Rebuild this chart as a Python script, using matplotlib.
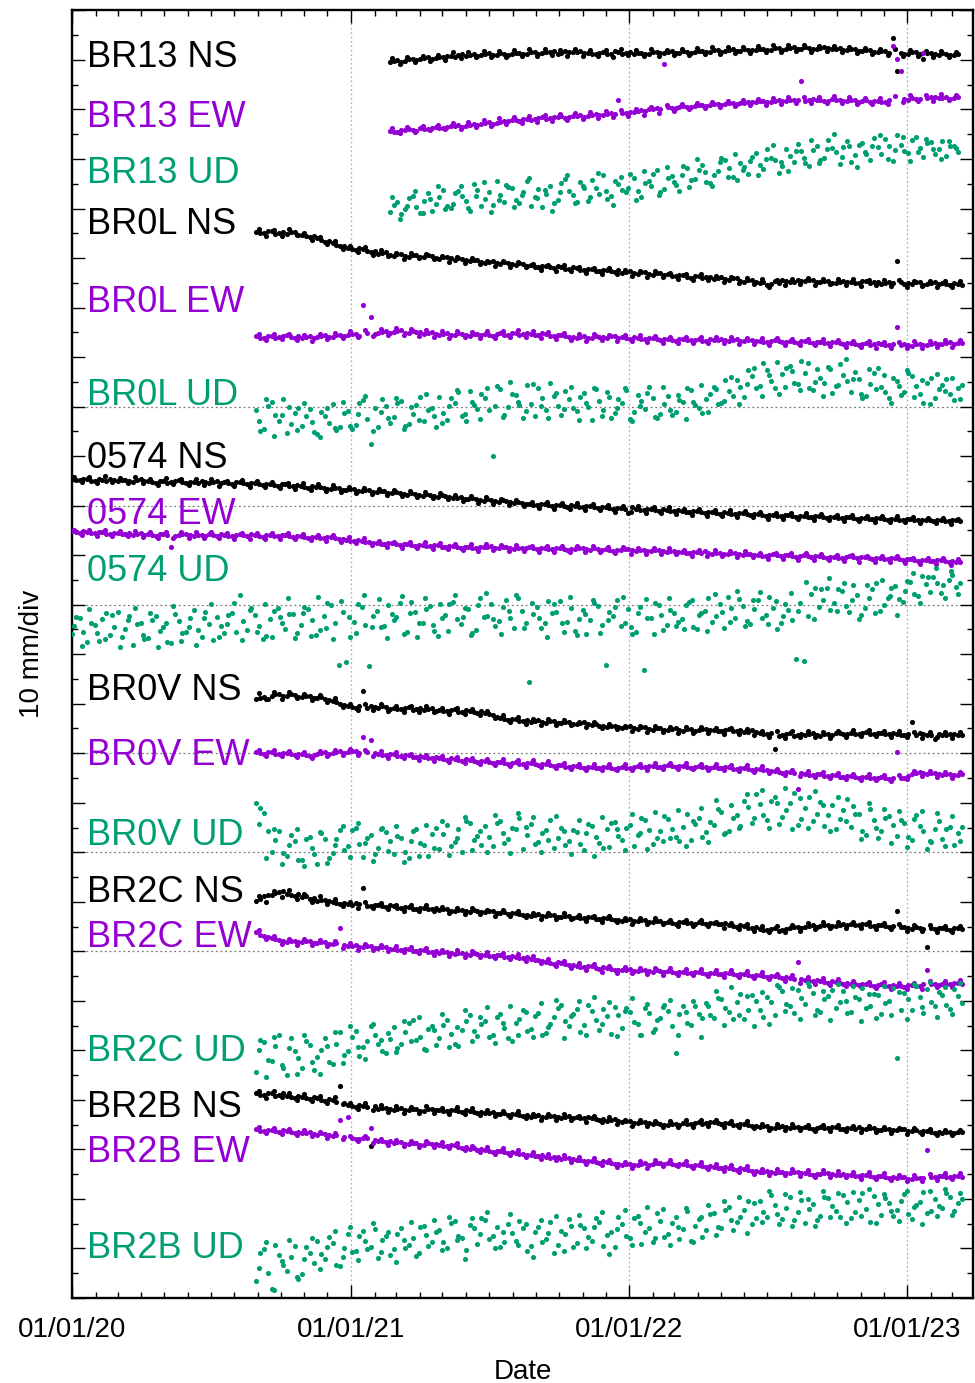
import numpy as np
import pandas as pd
import matplotlib
matplotlib.use("Agg")
import matplotlib.pyplot as plt
import matplotlib.dates as mdates
import matplotlib.transforms as mtransforms
from matplotlib.ticker import MultipleLocator

plt.rcParams['font.family'] = ['Liberation Sans', 'DejaVu Sans']

# displacement in mm.
# "_a": one value every 10 days from the first epoch, "_b": 5 days later,
# "_c": 3 days later (the band spread between them)
start_0574 = "2020-01-01"
start_br0 = "2020-08-30"     # BR0L, BR0V, BR2C, BR2B
start_br13 = "2021-02-21"

br13_ns_a = [-0.2, 0.3, 0.1, 0.5, 0.4, 0.8, 0.6, 1.0, 1.2, 1.4, 1.1, 1.5, 1.3, 1.7, 1.4, 1.6,
             1.5, 1.8, 1.6, 2.0, 1.7, 1.9, 1.6, 2.1, 1.9, 2.2, 1.8, 1.5, 1.9, 1.6, 2.0, 1.7,
             1.5, 1.8, 1.6, 2.0, 1.7, 2.1, 1.8, 2.0, 1.9, 2.2, 2.0, 2.4, 2.1, 2.5, 2.2, 2.4,
             2.3, 2.6, 2.4, 2.8, 2.5, 2.9, 2.6, 2.8, 2.6, 2.9, 2.5, 2.7, 2.3, 2.5, 2.1, 2.3,
             1.9, 2.1, 4.7, 1.8, 1.6, 1.9, 0.4, 1.7, 1.4, 1.6, 1.3]
br13_ns_b = [0.1, -0.1, 0.4, 0.2, 0.7, 0.5, 0.9, 1.2, 1.0, 1.5, 1.3, 1.2, 1.6, 1.4, 1.8, 1.3,
             1.7, 1.5, 2.0, 1.6, 1.9, 2.2, 1.8, 1.9, 2.0, 1.7, 1.6, 1.8, 1.5, 2.1, 1.6, 1.9,
             1.7, 1.5, 2.0, 1.8, 1.9, 1.7, 2.2, 1.8, 2.1, 1.9, 2.3, 2.0, 2.4, 2.2, 2.6, 2.3,
             2.5, 2.4, 2.7, 2.3, 2.8, 2.6, 3.0, 2.5, 2.8, 2.7, 2.6, 2.4, 2.6, 2.2, 2.4, 2.0,
             2.2, 1.8, -1.9, 1.6, 1.9, 1.5, 1.8, 1.5, 1.7, 1.3, 1.5]
br13_ns_c = [0.6, -0.5, 0.9, -0.2, 1.2, 0.0, 1.4, 0.3, 1.9, 0.7, 2.0, 0.8, 2.2, 0.9, 2.1, 1.0,
             2.4, 1.2, 2.5, 1.1, 2.6, 1.3, 2.4, 1.2, 2.5, 1.1, 2.3, 1.2, 2.4, 1.0, 2.5, 1.3,
             2.3, 1.1, 2.6, 1.2, 2.4, 1.3, 2.5, 1.4, 2.8, 1.6, 2.9, 1.5, 3.0, 1.7, 2.9, 1.8,
             3.2, 2.0, 3.3, 1.9, 3.4, 2.1, 3.3, 2.0, 3.2, 2.1, 3.1, 1.9, 2.9, 1.7, 2.8, 1.6,
             2.5, 1.3, 2.6, 1.2, 2.3, 1.1, 2.2, 1.0, 2.1, 0.9, 2.0]
br13_ew_a = [0.1, -0.2, 0.3, 0.2, 0.6, 0.4, 0.8, 0.7, 1.0, 1.2, 1.1, 1.5, 1.4, 1.8, 1.7, 2.1,
             2.3, 2.1, 2.5, 2.4, 2.8, 2.6, 2.9, 2.7, 3.0, 3.2, 3.1, 3.4, 3.3, 3.6, 6.3, 3.7,
             3.9, 4.2, 4.4, 4.7, 13.6, 4.8, 5.0, 4.9, 5.2, 5.4, 5.3, 5.6, 5.5, 5.8, 5.7, 5.9,
             5.9, 6.1, 6.0, 6.3, 6.2, 6.4, 10.2, 6.3, 6.4, 6.2, 6.5, 6.3, 6.1, 6.4, 6.2, 6.0,
             6.2, 6.0, 17.3, 12.2, 6.4, 6.6, 15.8, 6.9, 6.7, 6.9, 6.8]
br13_ew_b = [-0.1, 0.2, 0.4, 0.1, 0.5, 0.7, 0.6, 0.9, 1.1, 0.9, 1.3, 1.2, 1.6, 1.5, 1.9, 2.0,
             2.2, 2.4, 2.3, 2.7, 2.5, 2.8, 3.0, 2.8, 3.1, 2.9, 3.3, 3.2, 3.5, 3.4, 3.6, 3.9,
             4.1, 4.0, 4.6, 4.5, 4.9, 4.7, 5.1, 5.0, 5.3, 5.1, 5.5, 5.4, 5.7, 5.6, 5.8, 6.0,
             6.1, 5.9, 6.2, 6.1, 6.4, 6.3, 6.1, 6.5, 6.3, 6.1, 6.4, 6.2, 6.3, 6.0, 6.3, 6.1,
             5.9, 6.3, 14.6, 6.5, 6.7, 6.5, 6.8, 7.0, 6.8, 6.6, 6.9]
br13_ew_c = [0.6, -0.4, 0.8, -0.1, 1.1, 0.2, 1.3, 0.4, 1.6, 0.5, 1.9, 0.8, 2.2, 1.1, 2.6, 1.5,
             2.9, 1.7, 3.1, 1.9, 3.3, 2.1, 3.5, 2.3, 3.6, 2.4, 3.8, 2.7, 4.0, 2.9, 4.2, 3.1,
             4.4, 3.3, 4.9, 3.7, 5.3, 4.1, 5.6, 4.5, 5.8, 4.7, 6.0, 4.9, 6.2, 5.1, 6.4, 5.3,
             6.5, 5.4, 6.7, 5.5, 6.9, 5.8, 7.0, 5.8, 7.0, 5.7, 7.1, 5.8, 6.9, 5.6, 6.8, 5.5,
             6.8, 5.6, 7.1, 5.9, 7.3, 6.1, 7.4, 6.2, 7.5, 6.3, 7.4]
br13_ud_a = [-0.4, 1.6, 0.3, 2.8, -0.6, 3.4, 1.2, 4.1, 0.5, 3.9, 1.8, 5.2, 0.9, 3.6, 5.8, 1.7,
             4.4, 1.4, 5.9, 2.6, 0.7, 4.8, 2.1, 6.2, 3.0, 5.7, 1.8, 4.5, 7.0, 2.9, 5.3, 3.6,
             6.4, 2.7, 5.8, 8.1, 4.3, 6.9, 3.8, 8.5, 6.2, 9.1, 5.4, 7.8, 10.2, 6.6, 9.4, 7.3,
             11.5, 8.2, 10.6, 7.4, 12.4, 9.7, 11.9, 8.8, 13.0, 10.5, 12.6, 9.3, 14.0, 11.1, 13.5, 10.2,
             12.8, 14.4, 9.8, 13.2, 11.6, 14.8, 10.7, 13.7, 12.3, 11.0, 12.9]
br13_ud_b = [1.1, -0.9, 2.4, 0.6, 1.9, -0.2, 2.7, 0.8, 3.5, 2.9, -0.3, 4.0, 2.3, 1.1, 3.0, 4.6,
             2.0, 3.7, 0.9, 4.2, 3.3, 1.5, 5.4, 3.9, 1.6, 4.4, 6.1, 3.2, 2.3, 5.9, 4.0, 7.3,
             3.9, 5.5, 7.2, 3.6, 6.4, 5.0, 8.9, 6.1, 8.0, 5.7, 7.1, 10.6, 8.4, 6.0, 8.6, 10.8,
             9.0, 12.3, 10.1, 8.9, 11.0, 13.4, 9.4, 12.2, 10.0, 14.2, 11.8, 12.7, 9.6, 13.1, 11.4, 14.6,
             11.3, 13.0, 15.1, 12.0, 14.1, 12.5, 13.6, 11.4, 14.0, 13.0, 11.8]
br13_ud_c = [2.6, -1.8, 0.9, 3.9, -0.7, 2.2, 4.9, 0.2, 1.3, 4.8, 0.4, 2.9, 5.6, -0.4, 2.1, 5.1,
             0.6, 3.0, 6.5, 2.4, 4.0, -0.1, 3.6, 7.1, 1.5, 4.9, 2.6, 7.5, 3.8, 1.0, 6.6, 4.4,
             2.1, 7.9, 4.8, 3.0, 8.7, 5.7, 7.0, 4.6, 10.3, 7.7, 4.9, 9.6, 6.7, 11.4, 8.1, 9.9,
             7.0, 10.4, 13.2, 9.6, 7.8, 12.0, 10.5, 14.1, 9.4, 12.3, 15.3, 10.8, 13.0, 8.6, 11.7, 12.9,
             15.2, 10.4, 12.1, 14.7, 9.9, 11.8, 14.3, 12.4, 10.3, 13.9, 12.6]

br0l_ns_a = [0.2, -0.1, 0.3, 0.0, -0.3, 0.1, -0.4, -0.9, -1.1, -1.8, -2.0, -2.6,
             -3.0, -3.5, -3.3, -3.9, -4.2, -3.9, -4.6, -4.3, -4.8, -4.5, -4.9, -4.6,
             -5.2, -4.8, -5.4, -5.3, -5.7, -5.5, -6.1, -5.7, -6.3, -6.0, -6.5, -6.4,
             -6.6, -7.0, -6.8, -7.1, -6.9, -7.4, -7.2, -7.6, -7.4, -7.8, -7.5, -7.9,
             -8.1, -7.8, -8.3, -8.0, -8.5, -8.2, -8.4, -8.8, -8.6, -9.1, -8.7, -9.0,
             -9.3, -9.0, -9.5, -9.2, -9.9, -9.6, -10.2, -10.5, -9.8, -9.6, -9.9, -9.5,
             -9.8, -9.6, -10.0, -9.7, -10.1, -9.8, -9.9, -10.2, -9.7, -10.0, -10.3, -9.9,
             -5.6, -10.3, -10.4, -10.0, -10.3, -9.9, -10.2, -10.5, -10.3]
br0l_ns_b = [0.0, 0.4, -0.2, 0.2, 0.1, -0.4, -0.7, -0.6, -1.5, -1.6, -2.4, -2.7,
             -3.3, -3.1, -3.7, -3.6, -4.0, -4.4, -4.3, -4.7, -4.4, -4.8, -4.5, -5.0,
             -4.9, -5.1, -5.0, -5.5, -5.4, -5.9, -5.8, -6.2, -5.9, -6.3, -6.2, -6.7,
             -6.9, -6.7, -7.0, -6.7, -7.3, -7.0, -7.5, -7.3, -7.7, -7.6, -7.8, -7.6,
             -7.9, -8.2, -8.0, -8.4, -8.1, -8.6, -8.7, -8.5, -8.9, -8.8, -9.2, -8.9,
             -9.1, -9.4, -9.1, -9.7, -9.5, -10.0, -9.9, -10.3, -10.1, -9.7, -10.0, -9.7,
             -9.6, -9.9, -9.8, -10.2, -9.9, -10.0, -10.1, -9.8, -10.1, -9.9, -10.1, -10.2,
             -9.9, -10.2, -10.0, -10.5, -10.1, -10.4, -10.4, -10.2, -10.6]
br0l_ns_c = [0.7, -0.6, 0.5, -0.7, 0.8, -0.5, -0.1, -1.4, -0.8, -2.3, -1.6, -3.2,
             -2.6, -3.9, -2.9, -4.4, -3.5, -4.7, -4.0, -5.2, -4.1, -5.1, -4.2, -5.3,
             -4.7, -5.9, -4.8, -6.0, -5.1, -6.3, -5.6, -6.8, -5.7, -6.9, -5.8, -7.0,
             -6.4, -7.6, -6.5, -7.7, -6.6, -7.8, -7.0, -8.2, -7.1, -8.3, -7.2, -8.4,
             -7.6, -8.8, -7.7, -8.9, -7.8, -9.0, -8.2, -9.4, -8.3, -9.5, -8.4, -9.6,
             -8.8, -10.0, -8.9, -10.1, -9.1, -10.3, -9.4, -10.9, -9.5, -10.6, -9.3, -10.4,
             -9.2, -10.5, -9.3, -10.4, -9.4, -10.6, -9.4, -10.7, -9.5, -10.6, -9.6, -10.8,
             -9.6, -10.9, -9.7, -10.8, -9.8, -10.9, -9.7, -11.0, -9.8]
br0l_ew_a = [0.1, -0.3, 0.2, -0.1, 0.3, -0.2, -0.3, 0.1, -0.1, 0.3, 0.0, 0.4,
             0.3, 0.6, 6.4, 3.9, 0.8, 1.1, 0.9, 1.3, 0.8, 1.0, 0.6, 0.9,
             0.4, 0.7, 0.3, 0.6, 0.2, 0.5, 0.5, 0.2, 0.7, 0.4, 0.8, 0.5,
             0.6, 0.3, 0.5, 0.1, 0.3, 0.0, -0.2, 0.1, -0.3, 0.0, -0.2, 0.2,
             -0.1, -0.4, -0.2, -0.5, -0.3, -0.6, -0.5, -0.8, -0.4, -0.7, -0.5, -0.8,
             -0.6, -0.4, -0.8, -0.5, -0.9, -0.7, -0.8, -1.1, -0.7, -1.0, -0.8, -1.2,
             -0.9, -1.2, -1.0, -1.3, -1.1, -1.4, -1.3, -1.6, -1.2, -1.5, -1.4, -1.7,
             1.9, -1.5, -1.8, -1.4, -1.7, -1.2, -1.4, -1.1, -1.3]
br0l_ew_b = [-0.2, 0.2, -0.3, 0.1, -0.1, 0.2, 0.0, -0.2, 0.2, 0.0, 0.3, 0.1,
             0.5, 0.2, 0.7, 0.6, 1.0, 0.8, 1.1, 0.7, 1.2, 0.9, 0.7, 0.5,
             0.6, 0.4, 0.8, 0.3, 0.6, 0.3, 0.3, 0.6, 0.4, 0.7, 0.3, 0.7,
             0.4, 0.7, 0.2, 0.4, 0.1, -0.1, 0.0, -0.2, 0.1, -0.1, 0.1, -0.3,
             -0.3, -0.1, -0.4, -0.3, -0.5, -0.4, -0.7, -0.4, -0.6, -0.6, -0.8, -0.5,
             -0.7, -0.6, -0.6, -0.8, -0.6, -0.9, -1.0, -0.8, -0.9, -1.1, -1.0, -0.9,
             -1.1, -1.0, -1.2, -1.1, -1.3, -1.2, -1.5, -1.4, -1.6, -1.3, -1.6, -1.5,
             -1.7, -1.6, -1.5, -1.7, -1.4, -1.5, -1.2, -1.4, -1.2]
br0l_ew_c = [0.6, -0.6, 0.5, -0.5, 0.6, -0.7, 0.4, -0.8, 0.6, -0.4, 0.8, -0.2,
             1.1, -0.1, 1.3, 0.2, 1.6, 0.4, 1.7, 0.3, 1.5, 0.2, 1.3, 0.0,
             1.2, -0.2, 1.1, -0.1, 1.0, -0.2, 1.1, -0.3, 1.2, -0.1, 1.3, -0.1,
             1.2, -0.2, 0.9, -0.5, 0.7, -0.7, 0.5, -0.8, 0.5, -0.7, 0.4, -0.8,
             0.4, -0.9, 0.3, -1.0, 0.1, -1.2, 0.0, -1.3, 0.0, -1.2, -0.1, -1.3,
             0.0, -1.3, -0.1, -1.4, -0.2, -1.5, -0.3, -1.6, -0.3, -1.7, -0.4, -1.7,
             -0.4, -1.7, -0.5, -1.8, -0.6, -2.0, -0.8, -2.1, -0.9, -2.2, -1.0, -2.3,
             -1.0, -2.3, -0.9, -2.2, -0.8, -2.1, -0.7, -2.0, -0.7]
br0l_ud_a = [1.5, -2.4, 3.1, -0.8, -3.2, 0.9, -1.8, 1.7, -3.5, 0.2, 2.6, -2.1,
             1.2, -1.6, 3.4, -5.5, -2.0, 2.3, 0.1, 3.2, -1.5, 2.4, -0.9, 1.8,
             4.1, -0.6, 2.9, 0.3, 5.2, 1.6, 3.8, -7.8, 5.6, 2.1, 4.4, -0.2,
             2.7, 5.9, 1.4, 4.3, 0.5, 3.6, 1.2, 4.8, -0.7, 3.3, 5.1, 0.9,
             2.8, -0.4, 4.5, 1.7, 3.9, 0.6, 4.2, 1.1, 3.0, 5.4, 1.9, 3.7,
             6.1, 2.9, 5.3, 7.4, 4.0, 8.2, 6.3, 9.5, 5.8, 8.7, 10.3, 6.6,
             8.9, 5.4, 7.9, 10.1, 6.2, 8.4, 5.1, 7.6, 4.3, 8.8, 6.0, 3.9,
             7.2, 5.0, 8.3, 4.6, 6.9, 3.8, 6.4, 4.7, 5.9]
br0l_ud_b = [-2.9, 2.2, 0.4, 3.6, -1.5, 1.9, 0.3, -3.0, 1.0, -1.2, -2.7, 0.8,
             -2.5, 2.8, -0.4, 1.9, 3.6, -1.3, 2.9, -1.8, 0.6, 4.1, 1.4, -2.1,
             0.9, 3.8, 5.0, -0.9, 2.4, 4.6, 1.5, 6.2, 0.4, 4.7, 2.5, 6.5,
             0.3, 3.9, 6.8, 2.2, 5.3, 1.9, 4.0, 2.1, 5.7, 1.5, -0.3, 3.6,
             5.5, 1.0, 3.3, 6.0, -0.2, 2.7, 0.5, 3.4, 5.9, 2.4, 0.8, 4.6,
             2.7, 7.5, 4.2, 6.0, 9.4, 5.8, 10.9, 7.2, 4.7, 9.9, 6.9, 11.4,
             5.9, 9.6, 6.8, 4.8, 10.8, 7.3, 9.1, 3.9, 6.6, 9.8, 5.0, 7.9,
             4.4, 8.9, 6.3, 2.8, 7.8, 5.6, 7.7, 3.4, 6.4]
br0l_ud_c = [-0.9, 3.7, -3.9, 0.5, 2.1, -2.6, 2.9, -1.0, -4.0, 1.9, -2.2, 3.1,
             -1.9, 0.6, 4.2, -2.8, 1.1, -0.3, 3.9, -2.4, 2.0, -0.6, 4.6, 0.2,
             -1.2, 2.3, 5.5, 0.6, 3.1, -0.4, 5.9, 2.2, 0.0, 7.1, 3.0, 1.2,
             6.6, 2.3, -0.2, 4.9, 1.6, 6.1, -0.6, 2.9, 5.8, 0.3, 4.1, 1.8,
             5.9, -0.9, 2.3, 4.8, 0.1, 6.0, 1.4, 4.4, -0.5, 3.1, 6.4, 1.0,
             5.6, 3.3, 8.0, 2.6, 6.7, 9.9, 4.2, 8.4, 11.2, 6.0, 9.2, 5.4,
             10.9, 7.0, 4.2, 9.6, 6.4, 11.7, 7.7, 4.6, 9.7, 5.7, 8.5, 2.9,
             6.3, 9.4, 4.1, 7.5, 2.6, 8.6, 5.2, 7.9, 3.6]

s0574_ns_a = [0.2, -0.1, 0.1, -0.3, 0.0, 0.2, -0.2, -0.1, -0.4, 0.1,
              -0.3, -0.6, -0.2, -0.5, -0.1, -0.7, -0.4, -0.3, -0.6, -0.2,
              -0.5, -0.8, -0.4, -0.9, -0.6, -1.0, -0.8, -1.2, -0.9, -1.3,
              -1.2, -1.6, -1.4, -1.7, -1.9, -1.6, -2.1, -1.9, -2.3, -2.1,
              -2.5, -2.3, -2.7, -2.6, -3.0, -2.8, -3.2, -3.0, -3.4, -3.3,
              -3.7, -3.5, -3.9, -3.8, -4.2, -4.0, -4.4, -4.3, -4.7, -4.6,
              -4.8, -5.1, -4.9, -5.2, -5.0, -5.4, -5.2, -5.5, -5.3, -5.6,
              -5.5, -5.8, -5.6, -6.7, -5.8, -6.1, -5.9, -6.2, -6.0, -6.3,
              -6.2, -6.5, -6.3, -6.6, -6.4, -6.8, -6.6, -6.9, -6.7, -7.0,
              -6.9, -7.2, -7.0, -7.3, -7.1, -7.4, -7.2, -7.5, -7.3, -7.6,
              -7.4, -7.7, -7.5, -7.8, -7.6, -7.9, -7.7, -8.0, -7.8, -8.1,
              -7.9, -8.2, -8.0, -8.3, -8.1, -8.4, -8.2]
s0574_ns_b = [-0.1, 0.1, -0.2, 0.2, -0.3, 0.0, -0.1, -0.3, 0.0, -0.3,
              -0.5, -0.3, -0.6, -0.3, -0.5, -0.4, -0.6, -0.5, -0.4, -0.6,
              -0.7, -0.5, -0.7, -0.6, -0.9, -0.8, -1.1, -0.9, -1.2, -1.1,
              -1.5, -1.3, -1.5, -1.8, -1.6, -2.0, -1.8, -2.2, -2.0, -2.4,
              -2.3, -2.6, -2.5, -2.8, -2.7, -3.1, -2.9, -3.3, -3.1, -3.5,
              -3.6, -3.8, -3.7, -4.1, -3.9, -4.3, -4.1, -4.5, -4.4, -4.8,
              -5.0, -4.8, -5.1, -5.0, -5.3, -5.1, -5.4, -5.2, -5.5, -5.4,
              -5.7, -5.6, -5.8, -5.5, -6.0, -5.8, -6.1, -5.9, -6.2, -6.1,
              -6.4, -6.3, -6.5, -6.4, -6.7, -6.5, -6.8, -6.7, -6.9, -6.8,
              -7.1, -7.0, -7.2, -7.1, -7.3, -7.2, -7.4, -7.3, -7.5, -7.4,
              -7.6, -7.5, -7.7, -7.6, -7.8, -7.7, -7.9, -7.8, -8.0, -7.9,
              -8.1, -8.0, -8.2, -8.1, -8.3, -8.2, -8.4]
s0574_ns_c = [0.6, -0.5, 0.5, -0.6, 0.7, -0.4, 0.4, -0.7, 0.5, -0.6,
              0.2, -1.0, 0.3, -0.9, 0.1, -1.1, 0.2, -1.0, 0.1, -1.2,
              -0.2, -1.3, -0.1, -1.4, -0.3, -1.5, -0.4, -1.6, -0.6, -1.8,
              -0.7, -2.0, -0.9, -2.2, -1.1, -2.4, -1.4, -2.6, -1.6, -2.8,
              -1.8, -3.1, -2.0, -3.3, -2.2, -3.5, -2.5, -3.7, -2.7, -3.9,
              -3.0, -4.3, -3.3, -4.6, -3.5, -4.8, -3.8, -5.1, -4.0, -5.3,
              -4.4, -5.7, -4.5, -5.8, -4.6, -5.9, -4.7, -6.0, -4.8, -6.1,
              -5.1, -6.4, -5.2, -6.5, -5.3, -6.6, -5.4, -6.7, -5.5, -6.8,
              -5.8, -7.1, -5.9, -7.2, -6.0, -7.3, -6.1, -7.4, -6.2, -7.5,
              -6.5, -7.8, -6.6, -7.9, -6.6, -7.9, -6.7, -8.0, -6.8, -8.1,
              -7.1, -8.3, -7.1, -8.4, -7.2, -8.5, -7.2, -8.5, -7.3, -8.6,
              -7.5, -8.8, -7.6, -8.8, -7.7, -8.9, -7.8]
s0574_ew_a = [0.1, -0.2, 0.0, -0.3, -0.1, -0.5, -0.2, -0.4, -0.6, -0.3,
              -0.5, -0.8, -0.4, -3.0, -0.7, -0.5, -0.9, -0.6, -0.4, -0.8,
              -0.6, -0.9, -0.5, -0.8, -0.6, -1.0, -0.7, -0.9, -0.6, -1.1,
              -0.9, -1.2, -1.0, -1.3, -1.1, -1.5, -1.6, -1.9, -1.8, -2.1,
              -2.2, -2.5, -2.3, -2.6, -2.4, -2.8, -2.6, -2.9, -2.7, -3.0,
              -2.9, -3.2, -3.0, -3.3, -3.1, -2.9, -3.3, -3.1, -3.4, -3.2,
              -3.1, -3.4, -3.2, -3.5, -3.3, -3.6, -3.4, -3.2, -3.6, -3.4,
              -3.5, -3.8, -3.6, -3.4, -3.8, -3.6, -3.9, -3.7, -4.0, -3.8,
              -4.0, -4.3, -4.1, -3.9, -4.4, -4.2, -4.5, -4.3, -4.6, -4.4,
              -4.6, -4.9, -4.5, -4.8, -4.6, -5.0, -4.7, -5.1, -4.8, -5.2,
              -5.0, -5.3, -4.9, -5.2, -5.0, -5.4, -5.2, -5.5, -5.3, -5.6,
              -5.5, -5.8, -5.6, -5.9, -5.7, -6.1, -6.0]
s0574_ew_b = [-0.1, 0.1, -0.2, -0.1, -0.4, -0.2, -0.5, -0.3, -0.4, -0.6,
              -0.7, -0.5, -0.6, -0.8, -0.5, -0.7, -0.6, -0.8, -0.7, -0.5,
              -0.8, -0.6, -0.7, -0.5, -0.9, -0.7, -0.8, -0.6, -0.9, -0.8,
              -1.1, -1.0, -1.2, -1.1, -1.3, -1.4, -1.8, -1.7, -2.0, -2.2,
              -2.4, -2.3, -2.5, -2.4, -2.7, -2.6, -2.8, -2.7, -3.0, -2.9,
              -3.1, -3.0, -3.2, -3.1, -3.0, -3.2, -3.1, -3.3, -3.2, -3.3,
              -3.3, -3.2, -3.4, -3.3, -3.5, -3.4, -3.3, -3.5, -3.3, -3.6,
              -3.7, -3.6, -3.5, -3.7, -3.6, -3.8, -3.7, -3.9, -3.8, -4.0,
              -4.2, -4.1, -4.2, -4.2, -4.3, -4.4, -4.3, -4.5, -4.4, -4.6,
              -4.8, -4.7, -4.7, -4.7, -4.8, -4.8, -4.9, -4.9, -5.0, -5.0,
              -5.2, -5.1, -5.1, -5.1, -5.3, -5.2, -5.4, -5.3, -5.5, -5.4,
              -5.7, -5.6, -5.8, -5.7, -5.9, -5.8, -6.1]
s0574_ew_c = [0.4, -0.7, 0.3, -0.8, 0.4, -0.8, 0.2, -0.9, 0.1, -1.0,
              0.0, -1.2, 0.0, -1.3, -0.1, -1.2, 0.0, -1.3, -0.1, -1.2,
              -0.2, -1.4, -0.3, -1.4, -0.2, -1.5, -0.3, -1.4, -0.2, -1.5,
              -0.5, -1.7, -0.6, -1.8, -0.7, -2.0, -1.0, -2.3, -1.3, -2.6,
              -1.9, -3.1, -2.0, -3.2, -2.0, -3.3, -2.1, -3.4, -2.3, -3.5,
              -2.5, -3.7, -2.5, -3.8, -2.5, -3.7, -2.6, -3.8, -2.6, -3.9,
              -2.8, -4.0, -2.8, -4.1, -2.8, -4.1, -2.9, -4.0, -2.8, -4.1,
              -3.1, -4.3, -3.1, -4.4, -3.2, -4.4, -3.2, -4.5, -3.3, -4.5,
              -3.6, -4.8, -3.6, -4.9, -3.7, -4.9, -3.8, -5.0, -3.9, -5.1,
              -4.2, -5.5, -4.2, -5.5, -4.3, -5.6, -4.3, -5.6, -4.4, -5.7,
              -4.7, -5.9, -4.7, -6.0, -4.8, -6.0, -4.8, -6.1, -4.9, -6.2,
              -5.2, -6.5, -5.2, -6.5, -5.3, -6.6, -5.4]
s0574_ud_a = [-1.2, 2.1, -2.8, 0.6, 1.9, -1.5, 3.2, -0.3, -3.4, 1.1,
              -2.0, 2.5, 0.2, -3.1, 1.4, -0.8, 3.6, -1.9, 0.7, 2.2,
              -1.1, 3.0, 6.6, -0.5, 2.7, -2.3, 1.8, 4.1, -0.2, 2.9,
              0.6, 3.8, -1.4, 2.5, 4.6, -7.4, -6.9, 1.3, 4.2, -7.6,
              3.5, 0.4, 2.8, 5.1, -0.9, 3.3, 1.0, 4.4, -1.7, 2.6,
              5.3, 0.8, 3.9, -0.4, 2.2, 4.8, 1.5, 5.6, -0.1, 3.4,
              -10.9, 4.2, 0.9, 3.1, 5.4, 1.2, -0.6, 3.7, 1.6, 4.5,
              -7.5, 2.4, 0.3, 3.8, -0.9, -8.4, 2.0, 4.7, 0.6, 3.0,
              1.9, 5.2, -0.2, 3.5, 1.3, 4.9, 6.3, 2.1, 4.4, 0.8,
              5.7, 2.6, 4.0, 0.9, 3.6, -6.3, -6.6, 6.8, 4.3, 8.1,
              5.0, 7.4, 3.2, 6.6, 4.1, 7.8, 3.5, 6.0, 8.5, 5.2,
              9.3, 6.4, 8.8, 10.2, 7.1, 9.6, 8.3]
s0574_ud_b = [2.3, -0.8, 0.9, -2.6, 3.0, 0.1, -1.8, 2.4, 0.8, -2.2,
              1.6, -0.6, -2.9, 2.8, -1.1, 2.0, -0.4, 3.3, -2.5, 0.4,
              2.6, -0.9, 1.4, 4.0, 0.3, -1.6, 3.5, 0.9, 2.8, -1.0,
              4.2, 1.7, -0.5, 5.0, 1.1, 3.2, -1.8, 4.8, 0.6, 2.4,
              0.1, 4.6, 2.3, -1.2, 5.2, 0.9, 3.9, -0.6, 2.0, 4.9,
              1.9, 4.0, -1.0, 6.1, 2.5, 0.4, 4.3, 2.0, 6.0, 1.1,
              2.9, 0.0, 5.5, 3.2, -0.8, 4.1, 1.8, -1.2, 5.0, 0.5,
              3.3, 5.6, 1.0, -1.3, 4.2, 2.0, 5.1, -0.4, 3.7, 1.2,
              4.6, 0.2, 3.0, 6.0, 2.4, -0.1, 4.1, 5.8, 1.4, 3.9,
              2.0, 6.2, -0.3, 4.8, 1.7, 5.1, 2.5, 8.0, 5.6, 3.7,
              7.8, 4.4, 8.7, 2.7, 6.0, 9.1, 4.6, 8.0, 5.9, 9.4,
              6.8, 10.4, 7.2, 9.0, 6.1, 10.6, 9.0]
s0574_ud_c = [0.4, -3.6, 3.9, -1.0, -2.3, 2.7, -3.9, 1.6, 4.0, -1.4,
              3.0, -3.8, 1.0, 4.5, -2.6, 0.1, -3.5, 2.0, 4.8, -1.9,
              0.7, 5.1, -2.4, 3.6, -0.9, 4.9, -1.8, 2.2, 6.0, -2.0,
              3.1, -1.6, 6.2, 0.0, -2.3, 5.4, 2.3, -1.0, 6.6, 0.2,
              5.8, -2.0, 1.6, 6.4, 3.1, -1.8, 6.0, 0.5, 4.8, -0.7,
              6.7, 2.2, -1.4, 4.6, 7.1, 1.8, -1.2, 3.5, 6.6, 0.0,
              5.1, 2.0, -1.9, 4.8, 1.0, 6.3, -1.5, 2.8, 5.7, -1.0,
              1.6, 4.3, 6.2, 0.2, 3.1, 5.8, -1.3, 2.6, 6.0, 0.3,
              -0.3, 5.7, 2.7, -0.7, 6.9, 3.2, 1.3, 7.4, 0.4, 5.6,
              7.2, 0.8, 5.4, 2.4, 7.0, 3.5, 9.3, 1.9, 7.9, 10.0,
              3.4, 9.0, 5.7, 1.8, 8.6, 3.0, 9.7, 6.5, 2.6, 7.4,
              11.0, 5.0, 10.3, 12.1, 8.7, 11.5, 6.9]

br0v_ns_a = [-0.1, 0.3, 0.5, 0.9, 0.6, 0.8, 0.3, 0.6, 0.2, 0.0, -0.5, -1.0,
             -1.4, -1.8, 1.6, -1.5, -1.9, -1.6, -1.8, -2.1, -1.7, -2.0, -2.3, -1.9,
             -2.2, -2.5, -2.1, -2.6, -2.4, -2.8, -2.9, -3.3, -3.9, -4.3, -4.0, -4.5,
             -4.6, -4.3, -4.8, -4.5, -4.9, -4.7, -5.0, -4.7, -5.2, -5.4, -5.7, -5.5,
             -5.9, -5.6, -6.1, -5.8, -6.3, -6.0, -6.3, -6.0, -6.5, -6.2, -6.4, -6.1,
             -6.3, -6.6, -6.2, -6.5, -6.7, -6.4, -6.9, -7.2, -10.2, -7.4, -7.0, -7.3,
             -7.3, -7.0, -7.5, -7.1, -6.9, -7.2, -6.9, -7.2, -6.8, -7.1, -6.9, -7.2,
             -7.1, -7.4, -4.6, -7.0, -7.3, -8.2, -7.3, -7.1, -7.4]
br0v_ns_b = [0.2, 0.0, 0.9, 0.6, 1.0, 0.4, 0.6, 0.2, 0.4, -0.3, -0.7, -1.3,
             -1.6, -1.4, -1.8, -1.7, -1.5, -2.0, -2.0, -1.8, -2.2, -1.9, -2.1, -2.4,
             -2.4, -2.2, -2.6, -2.3, -2.7, -2.5, -3.1, -3.6, -4.1, -4.0, -4.4, -4.2,
             -4.5, -4.7, -4.5, -4.8, -4.6, -5.0, -4.8, -5.1, -5.0, -5.6, -5.4, -5.8,
             -5.7, -6.0, -5.8, -6.2, -6.0, -6.4, -6.1, -6.4, -6.2, -6.5, -6.2, -6.4,
             -6.5, -6.3, -6.6, -6.4, -6.7, -6.8, -7.1, -7.0, -7.5, -7.2, -7.5, -7.1,
             -7.2, -7.4, -7.2, -7.3, -7.0, -7.1, -7.1, -6.9, -7.2, -6.9, -7.2, -7.0,
             -7.3, -7.1, -7.3, -7.2, -7.4, -7.1, -7.4, -7.2, -7.3]
br0v_ns_c = [1.1, -0.1, 1.3, 0.0, 1.4, 0.1, 1.0, -0.3, 0.8, -0.7, 0.2, -1.6,
             -1.0, -2.2, -1.0, -2.3, -1.1, -2.4, -1.4, -2.6, -1.5, -2.7, -1.5, -2.6,
             -1.8, -3.0, -1.9, -3.1, -2.0, -3.2, -2.4, -3.9, -3.3, -4.6, -3.6, -5.0,
             -4.0, -5.2, -4.1, -5.3, -4.2, -5.3, -4.6, -5.8, -4.7, -5.9, -5.0, -6.1,
             -5.4, -6.6, -5.5, -6.7, -5.6, -6.7, -5.7, -6.9, -5.8, -7.0, -5.8, -6.9,
             -5.9, -7.1, -6.0, -7.2, -6.1, -7.3, -6.5, -7.8, -6.6, -7.9, -6.6, -7.8,
             -6.6, -7.8, -6.7, -7.9, -6.6, -7.7, -6.4, -7.6, -6.4, -7.6, -6.5, -7.7,
             -6.6, -7.8, -6.7, -7.9, -6.7, -7.8, -6.7, -7.9, -6.8]
br0v_ew_a = [0.2, -0.2, 0.1, -0.3, 0.0, -0.4, -0.3, -0.6, -0.2, 0.1, -0.1, 0.3,
             0.1, 0.4, 3.2, 2.6, -0.2, -0.5, -0.3, -0.7, -0.5, -0.9, -0.8, -1.1,
             -1.0, -1.4, -1.2, -1.6, -1.4, -1.8, -1.7, -2.0, -1.8, -2.2, -1.9, -2.3,
             -2.1, -2.4, -2.2, -2.6, -2.5, -2.9, -2.7, -3.0, -2.8, -3.1, -2.9, -3.2,
             -2.8, -3.1, -2.7, -2.9, -2.6, -2.8, -2.5, -2.8, -2.6, -3.0, -2.7, -2.9,
             -2.8, -3.1, -2.9, -3.3, -3.0, -3.4, -3.2, -3.5, -3.7, -4.0, -3.8, -7.4,
             -4.2, -4.5, -4.3, -4.7, -4.5, -4.9, -4.7, -5.0, -4.8, -5.2, -4.9, -5.3,
             0.1, -5.1, -4.3, -3.9, -4.2, -4.0, -4.4, -4.2, -4.5]
br0v_ew_b = [-0.1, 0.1, -0.2, 0.0, -0.3, -0.2, -0.5, -0.4, 0.0, -0.2, 0.2, 0.0,
             0.3, 0.0, 0.2, -0.1, -0.4, -0.3, -0.6, -0.4, -0.8, -0.6, -1.0, -0.9,
             -1.3, -1.1, -1.5, -1.3, -1.7, -1.6, -1.9, -1.8, -2.1, -2.0, -2.2, -2.1,
             -2.3, -2.2, -2.5, -2.4, -2.8, -2.7, -2.9, -2.8, -3.0, -2.9, -3.1, -3.0,
             -3.0, -2.9, -2.8, -2.7, -2.9, -2.6, -2.7, -2.6, -2.9, -2.8, -2.8, -3.0,
             -3.0, -2.9, -3.2, -3.1, -3.3, -3.2, -3.4, -3.6, -3.9, -3.8, -4.1, -4.0,
             -4.4, -4.3, -4.6, -4.5, -4.8, -4.7, -4.9, -4.8, -5.1, -5.0, -5.2, -5.1,
             -5.0, -4.6, -4.1, -4.1, -4.1, -4.3, -4.3, -4.4, -4.3]
br0v_ew_c = [0.6, -0.6, 0.5, -0.7, 0.4, -0.9, 0.2, -1.0, 0.4, -0.6, 0.6, -0.4,
             0.8, -0.4, 0.6, -0.6, 0.3, -1.0, 0.2, -1.1, -0.2, -1.4, -0.4, -1.7,
             -0.6, -1.8, -0.8, -2.0, -1.0, -2.3, -1.2, -2.5, -1.3, -2.6, -1.4, -2.8,
             -1.5, -2.8, -1.7, -3.0, -2.0, -3.3, -2.2, -3.4, -2.3, -3.5, -2.3, -3.5,
             -2.3, -3.5, -2.2, -3.4, -2.1, -3.2, -2.0, -3.2, -2.1, -3.3, -2.2, -3.4,
             -2.3, -3.5, -2.4, -3.6, -2.5, -3.8, -2.7, -4.0, -3.2, -4.4, -3.4, -4.7,
             -3.6, -4.9, -3.8, -5.1, -4.0, -5.3, -4.2, -5.5, -4.3, -5.6, -4.4, -5.7,
             -4.5, -5.4, -3.6, -4.7, -3.6, -4.8, -3.8, -5.0, -3.9]
br0v_ud_a = [8.1, 6.0, -1.9, 2.3, -2.6, 0.4, -3.4, 1.1, -4.2, 0.8, -2.0, 2.5,
             -0.7, 3.1, -2.8, 1.6, -1.1, 2.2, -2.3, 0.9, -3.0, 2.7, -0.5, 1.8,
             -1.2, 3.6, 0.2, -1.8, 4.1, 1.3, 3.4, -0.6, 4.5, 0.7, 2.9, -1.3,
             3.8, 0.1, 2.6, -1.0, 3.1, 0.4, 2.2, -1.5, 3.5, 0.0, 2.8, 4.3,
             0.6, 3.7, 1.5, 4.6, -0.3, 2.4, 4.9, 1.2, 3.3, 0.5, 5.0, 2.1,
             3.6, 6.3, 2.4, 5.7, 8.4, 4.1, 7.8, 4.6, 9.2, 5.3, 8.0, 3.7,
             7.1, 4.4, 8.3, 5.6, 2.9, 6.7, 3.2, 5.8, 1.6, 4.7, 2.3, 5.4,
             1.3, 4.0, 0.6, 3.5, -1.2, 2.7, 0.8, 3.3, 1.9]
br0v_ud_b = [7.0, 2.4, 0.5, -2.1, 1.5, -3.5, 0.8, -2.3, 1.9, -3.1, 0.7, -1.4,
             2.6, -0.3, 1.0, -2.2, 3.0, 0.3, 1.4, -1.9, 2.3, 0.0, -2.6, 3.0,
             1.8, -0.7, 2.9, 4.4, 0.6, -0.4, 1.2, 4.0, -0.1, 3.1, 5.0, 1.6,
             -0.3, 2.0, 4.7, 0.9, -0.4, 2.6, -0.2, 3.9, 1.2, -1.1, 4.0, 1.3,
             3.0, -0.6, 5.1, 2.6, 1.0, 5.4, 2.9, 0.4, 5.8, 3.8, 1.2, 4.3,
             6.8, 2.0, 5.0, 3.5, 7.2, 9.8, 5.6, 8.5, 3.9, 6.7, 10.0, 4.8,
             9.2, 5.9, 3.4, 7.6, 4.9, 8.8, 5.8, 2.4, 6.9, 0.9, 5.0, 3.6,
             4.7, 1.1, 5.6, 2.3, 0.2, 4.5, 2.9, -0.4, 3.2]
br0v_ud_c = [3.9, -3.0, 2.8, -4.3, -0.5, 2.7, -4.6, -1.0, 2.2, -4.1, -0.4, 3.4,
             -2.9, 4.0, -0.1, -3.6, 2.9, -1.7, 3.5, -3.9, 0.4, -2.6, 3.7, -1.1,
             4.4, -2.4, 0.9, 5.3, -1.5, 2.3, -1.9, 5.6, 1.9, -2.0, 6.0, 3.2,
             5.2, -1.8, 0.6, 5.4, 2.3, -2.2, 4.6, 2.0, -2.7, 5.3, -0.9, 2.7,
             -1.4, 5.8, 1.9, -1.2, 6.2, 0.3, 1.0, 6.6, -0.6, 4.4, 7.0, 0.1,
             8.6, 1.8, 7.6, 3.0, 9.9, 5.1, 10.7, 3.0, 8.1, 11.1, 2.7, 9.0,
             3.1, 10.4, 7.6, 2.3, 9.3, 4.5, 7.5, 0.7, 8.0, 3.0, 6.8, 0.0,
             6.4, -0.8, 4.9, 6.5, 0.4, 6.0, -0.6, 5.4, 0.3]

br2c_ns_a = [-0.6, 0.3, 0.6, 1.1, 0.8, 0.4, 0.1, -0.3, -0.6, -0.4, -0.9, -1.2,
             -1.3, -1.1, 2.0, -1.6, -1.4, -1.8, -1.7, -2.1, -1.9, -2.3, -2.0, -2.2,
             -2.5, -2.2, -2.6, -2.4, -2.8, -2.6, -2.9, -2.7, -3.1, -3.3, -3.0, -3.4,
             -3.6, -3.3, -3.7, -3.5, -3.9, -3.7, -3.8, -4.1, -3.9, -4.3, -4.1, -4.4,
             -4.6, -4.3, -4.7, -4.5, -4.9, -4.6, -4.9, -5.2, -4.8, -5.1, -4.9, -5.2,
             -5.0, -5.3, -5.5, -5.8, -5.6, -6.1, -6.2, -6.5, -6.0, -6.4, -6.1, -5.9,
             -5.8, -5.5, -5.7, -5.4, -5.6, -5.3, -5.2, -5.5, -5.3, -5.7, -5.5, -5.8,
             -2.6, -5.9, -6.2, -6.0, -10.0, -6.3, -6.1, -6.4, -6.1]
br2c_ns_b = [-0.2, 0.5, 0.9, 1.3, 0.5, 0.7, 0.3, 0.0, -0.4, -0.7, -1.1, -1.0,
             -1.5, -1.3, -1.6, -1.4, -1.7, -1.5, -2.0, -1.8, -2.2, -2.0, -2.3, -2.1,
             -2.3, -2.6, -2.4, -2.7, -2.5, -2.9, -2.7, -3.0, -2.9, -3.1, -3.2, -3.5,
             -3.4, -3.7, -3.5, -3.8, -3.6, -4.0, -4.0, -3.9, -4.2, -4.0, -4.3, -4.5,
             -4.4, -4.7, -4.5, -4.8, -4.7, -5.0, -5.1, -4.9, -5.0, -5.3, -5.0, -5.1,
             -5.2, -5.1, -5.6, -5.4, -6.0, -5.8, -6.4, -6.2, -6.6, -6.2, -5.8, -6.0,
             -5.6, -5.8, -5.5, -5.7, -5.4, -5.5, -5.4, -5.3, -5.6, -5.4, -5.7, -5.6,
             -5.8, -6.1, -5.9, -6.2, -6.1, -6.0, -6.3, -6.0, -6.2]
br2c_ns_c = [0.3, -0.9, 1.4, 0.2, 1.6, -0.2, 0.8, -0.8, 0.4, -1.3, -0.3, -1.7,
             -0.8, -2.0, -0.9, -2.1, -1.0, -2.2, -1.4, -2.6, -1.5, -2.7, -1.4, -2.6,
             -1.9, -3.1, -2.0, -3.2, -2.0, -3.2, -2.4, -3.6, -2.5, -3.7, -2.6, -3.8,
             -3.0, -4.2, -3.1, -4.3, -3.1, -4.3, -3.5, -4.7, -3.6, -4.8, -3.6, -4.8,
             -4.0, -5.2, -4.1, -5.3, -4.1, -5.3, -4.4, -5.6, -4.5, -5.7, -4.5, -5.7,
             -4.8, -6.0, -5.0, -6.3, -5.2, -6.6, -5.6, -6.9, -5.7, -7.0, -5.5, -6.6,
             -5.0, -6.2, -4.9, -6.1, -4.8, -6.0, -4.8, -6.1, -4.9, -6.2, -5.0, -6.3,
             -5.3, -6.6, -5.4, -6.7, -5.5, -6.8, -5.6, -6.9, -5.6]
br2c_ew_a = [0.5, -0.2, -0.7, -1.1, -1.4, -1.2, -1.5, -1.3, -1.7, -1.5, -1.9, 1.4,
             -2.3, -2.1, -2.5, -2.3, -2.7, -2.5, -2.8, -3.1, -2.9, -3.3, -3.1, -3.5,
             -3.6, -3.4, -3.8, -3.6, -4.0, -3.8, -4.0, -4.3, -4.1, -4.5, -4.4, -4.7,
             -4.8, -5.1, -5.4, -5.8, -5.6, -6.0, -6.2, -6.5, -6.3, -6.8, -6.7, -7.0,
             -7.1, -6.9, -7.3, -7.1, -7.4, -7.2, -7.3, -7.6, -7.4, -7.7, -7.5, -7.8,
             -7.6, -7.9, -7.7, -8.0, -7.8, -8.2, -8.1, -8.4, -8.3, -8.7, -8.6, -5.4,
             -9.1, -9.3, -9.2, -9.6, -9.4, -9.8, -9.9, -10.1, -9.8, -10.3, -10.0, -10.4,
             -10.3, -10.5, -10.1, -10.4, -7.1, -9.9, -9.8, -10.0, -9.6]
br2c_ew_b = [0.0, -0.5, -0.9, -1.3, -1.2, -1.5, -1.3, -1.6, -1.4, -1.8, -1.7, -2.1,
             -2.2, -2.4, -2.3, -2.6, -2.4, -2.8, -3.0, -2.9, -3.2, -3.0, -3.4, -3.3,
             -3.5, -3.7, -3.6, -3.9, -3.7, -4.1, -4.2, -4.1, -4.4, -4.3, -4.6, -4.5,
             -5.0, -5.2, -5.6, -5.5, -5.9, -6.1, -6.4, -6.3, -6.6, -6.5, -6.9, -7.1,
             -7.0, -7.2, -7.0, -7.3, -7.1, -7.5, -7.5, -7.4, -7.6, -7.5, -7.7, -7.6,
             -7.8, -7.7, -7.9, -7.8, -8.1, -8.0, -8.3, -8.2, -8.5, -8.5, -8.8, -8.9,
             -9.2, -9.1, -9.4, -9.3, -9.7, -9.6, -10.0, -9.8, -10.1, -10.2, -10.3, -10.2,
             -10.4, -10.2, -10.3, -10.0, -9.8, -10.1, -9.9, -9.7, -9.8]
br2c_ew_c = [1.0, -0.9, -0.2, -1.8, -0.8, -2.0, -0.8, -2.1, -1.0, -2.3, -1.3, -2.6,
             -1.7, -3.0, -1.8, -3.1, -2.0, -3.3, -2.2, -3.5, -2.4, -3.7, -2.6, -4.0,
             -3.0, -4.2, -3.1, -4.4, -3.3, -4.5, -3.4, -4.7, -3.6, -4.9, -3.8, -5.2,
             -4.2, -5.6, -4.8, -6.3, -5.2, -6.7, -5.6, -7.0, -5.8, -7.4, -6.2, -7.7,
             -6.5, -7.7, -6.6, -7.8, -6.7, -8.0, -6.7, -8.0, -6.8, -8.1, -6.9, -8.3,
             -7.0, -8.4, -7.1, -8.5, -7.2, -8.7, -7.5, -8.9, -7.8, -9.3, -8.0, -9.6,
             -8.5, -9.8, -8.7, -10.1, -8.9, -10.3, -9.3, -10.6, -9.4, -10.8, -9.5, -10.9,
             -9.7, -11.0, -9.6, -10.9, -9.3, -10.5, -9.2, -10.5, -9.1]
br2c_ud_a = [-3.4, 2.5, -1.2, 4.0, -4.1, 0.8, -2.6, 1.9, -0.5, 3.3, -1.8, 4.6,
             0.7, 4.9, 1.5, 5.8, 2.2, 0.3, 5.6, 2.1, 6.4, 3.0, 1.2, 5.9,
             3.4, 7.0, 2.2, 5.1, 8.0, 3.7, 6.9, 4.1, 8.2, 3.3, 6.5, 9.0,
             5.2, 8.5, 4.4, 7.6, 10.1, 5.9, 9.2, 6.0, 8.8, 5.1, 7.9, 9.6,
             5.5, 8.7, 6.3, 9.4, 4.6, 7.5, 8.9, 0.4, 9.8, 6.1, 8.3, 10.5,
             7.4, 11.2, 8.6, 10.7, 7.2, 12.0, 9.0, 11.6, 8.1, 12.8, 9.9, 13.1,
             10.2, 12.5, 8.7, 11.8, 9.4, 12.9, 8.6, 11.3, 9.5, 12.2, 8.2, 10.9,
             -0.7, 12.4, 9.1, 11.7, 13.3, 9.8, 12.1, 9.3, 11.8]
br2c_ud_b = [2.9, -1.0, 1.8, -2.7, 3.4, -0.6, 2.7, -3.0, 0.9, -1.4, 2.2, 0.0,
             3.6, -0.2, 2.7, 4.0, 0.8, 3.1, 1.3, 4.6, 7.0, 3.6, 5.2, 2.0,
             6.0, 4.2, 1.8, 6.8, 4.9, 6.2, 3.5, 7.6, 5.4, 2.8, 7.3, 4.8,
             7.8, 3.9, 6.3, 9.4, 6.8, 8.2, 4.6, 10.0, 7.1, 9.3, 4.2, 8.0,
             9.5, 6.7, 4.0, 8.4, 7.0, 10.1, 5.8, 8.2, 6.5, 9.9, 7.4, 8.0,
             11.5, 9.4, 7.3, 12.2, 9.0, 10.8, 7.7, 10.6, 13.6, 10.3, 8.4, 11.4,
             13.8, 9.1, 11.2, 13.0, 10.7, 8.5, 11.6, 13.4, 9.9, 12.1, 10.5, 13.5,
             9.0, 11.3, 13.9, 8.4, 10.6, 12.6, 10.1, 13.2, 10.4]
br2c_ud_c = [0.9, -4.4, 3.6, -2.0, 1.4, -3.8, 3.9, -1.5, -3.9, 1.7, 4.6, -1.6,
             5.8, 1.5, -0.9, 6.3, 2.9, 4.5, 0.6, 6.8, 2.7, 7.6, 0.9, 5.0,
             8.3, 1.6, 5.6, 9.0, 2.8, 7.6, 9.6, 2.4, 6.4, 9.8, 3.9, 8.6,
             3.6, 10.4, 5.6, 11.0, 3.3, 7.8, 10.9, 4.0, 11.7, 6.3, 10.6, 3.8,
             8.8, 11.4, 3.9, 10.2, 5.3, 9.6, 11.1, 4.1, 8.6, 10.8, 3.6, 9.9,
             12.8, 6.0, 13.6, 8.0, 11.9, 5.9, 12.6, 6.3, 14.1, 8.8, 13.4, 7.2,
             14.6, 8.1, 12.8, 7.0, 14.3, 10.9, 13.9, 6.9, 12.3, 7.4, 13.8, 8.0,
             12.6, 7.3, 14.3, 9.7, 14.7, 7.6, 13.6, 8.2, 14.5]

br2b_ns_a = [0.3, -0.1, 0.4, 0.0, -0.3, -0.6, -0.4, -0.9, -0.7, -1.2, -1.0, 1.9,
             -2.1, -2.4, -2.2, -10.4, -2.8, -2.6, -3.0, -2.7, -3.1, -2.8, -3.2, -2.9,
             -3.0, -3.3, -3.1, -3.4, -3.2, -3.6, -3.7, -3.5, -3.9, -4.1, -3.8, -4.2,
             -4.4, -4.1, -4.5, -4.2, -4.6, -4.3, -4.4, -4.7, -4.6, -5.0, -5.2, -4.9,
             -5.5, -5.3, -5.7, -5.5, -5.9, -5.8, -6.1, -5.8, -5.6, -5.9, -5.4, -5.7,
             -5.5, -5.9, -5.7, -6.1, -5.9, -6.3, -6.5, -6.2, -6.6, -6.3, -6.7, -6.4,
             -6.5, -6.8, -6.4, -6.7, -6.5, -6.9, -6.7, -6.5, -6.9, -6.7, -7.1, -6.8,
             -7.1, -6.9, -7.3, -7.5, -7.2, -7.6, -7.7, -7.4, -7.5]
br2b_ns_b = [0.0, 0.4, -0.2, 0.3, -0.4, -0.2, -0.7, -0.5, -1.1, -0.9, -1.4, -1.7,
             -2.3, -2.0, -2.5, -2.3, -2.6, -2.9, -2.8, -3.1, -2.9, -3.2, -2.9, -3.1,
             -3.2, -3.1, -3.3, -3.0, -3.5, -3.4, -3.6, -3.8, -3.7, -3.9, -4.1, -4.0,
             -4.2, -4.5, -4.3, -4.5, -4.4, -4.6, -4.6, -4.5, -4.8, -4.8, -5.0, -5.3,
             -5.3, -5.6, -5.4, -5.7, -5.6, -6.0, -5.9, -6.1, -5.8, -5.6, -5.8, -5.5,
             -5.7, -5.6, -6.0, -5.8, -6.1, -6.2, -6.3, -6.6, -6.4, -6.5, -6.4, -6.6,
             -6.7, -6.6, -6.6, -6.5, -6.8, -6.6, -6.8, -6.8, -6.7, -7.0, -6.9, -7.0,
             -6.9, -7.2, -7.1, -7.3, -7.4, -7.5, -7.5, -7.6, -7.4]
br2b_ns_c = [0.7, -0.6, 0.8, -0.5, 0.4, -1.0, 0.1, -1.3, -0.2, -1.7, -0.5, -1.9,
             -1.6, -2.9, -1.7, -3.0, -2.0, -3.4, -2.3, -3.6, -2.4, -3.7, -2.3, -3.6,
             -2.6, -3.8, -2.5, -3.9, -2.7, -4.1, -3.1, -4.3, -3.2, -4.5, -3.3, -4.6,
             -3.8, -5.0, -3.8, -5.1, -3.9, -5.1, -4.2, -5.4, -4.3, -5.5, -4.5, -5.8,
             -5.0, -6.2, -5.1, -6.3, -5.2, -6.4, -5.2, -6.5, -5.1, -6.4, -5.0, -6.3,
             -5.1, -6.4, -5.2, -6.5, -5.3, -6.7, -5.8, -7.0, -5.8, -7.1, -5.9, -7.1,
             -6.0, -7.2, -6.0, -7.3, -6.1, -7.3, -6.2, -7.4, -6.2, -7.5, -6.4, -7.6,
             -6.6, -7.8, -6.7, -7.9, -6.8, -8.0, -7.0, -8.1, -7.0]
br2b_ew_a = [0.2, -0.2, 0.1, -0.3, -0.1, -0.5, -0.6, -0.4, -0.9, -0.7, -1.2, 2.0,
             2.6, -1.9, -1.7, 0.4, -2.2, -2.4, -2.7, -2.5, -2.9, -2.6, -3.0, -2.8,
             -3.0, -3.3, -3.1, -3.6, -3.8, -4.0, -4.1, -4.4, -4.2, -4.7, -4.6, -4.9,
             -5.1, -5.3, -5.5, -5.4, -5.8, -5.7, -6.1, -6.3, -6.2, -6.6, -6.5, -6.9,
             -7.1, -6.8, -7.0, -6.7, -6.9, -6.6, -6.7, -7.0, -6.8, -7.2, -7.0, -7.4,
             -7.5, -7.7, -7.6, -8.0, -7.9, -8.3, -8.5, -8.3, -8.6, -8.4, -8.7, -8.5,
             -8.7, -9.0, -8.8, -8.6, -9.1, -8.9, -9.1, -9.3, -9.0, -9.4, -9.2, -9.6,
             -9.7, -9.5, -9.8, -9.6, -4.1, -9.4, -9.3, -9.5, -9.2]
br2b_ew_b = [-0.1, 0.1, -0.2, 0.0, -0.4, -0.3, -0.5, -0.8, -0.6, -1.0, -0.9, -1.3,
             -1.5, -1.8, -1.6, -2.0, -2.3, -2.2, -2.5, -2.8, -2.7, -3.0, -2.7, -2.9,
             -3.2, -3.1, -3.4, -3.5, -3.7, -3.9, -4.3, -4.2, -4.5, -4.4, -4.8, -5.0,
             -5.2, -5.1, -5.6, -5.5, -5.6, -5.9, -6.0, -6.2, -6.4, -6.3, -6.7, -6.8,
             -6.9, -7.0, -6.8, -7.0, -6.7, -6.8, -6.9, -6.8, -7.1, -7.0, -7.3, -7.2,
             -7.6, -7.5, -7.8, -7.7, -8.1, -8.2, -8.4, -8.5, -8.4, -8.6, -8.5, -8.6,
             -8.8, -8.9, -8.7, -8.9, -9.0, -9.0, -9.2, -9.1, -9.3, -9.2, -9.4, -9.5,
             -9.5, -9.8, -9.6, -9.7, -9.5, -9.3, -9.4, -9.3, -9.4]
br2b_ew_c = [0.6, -0.6, 0.4, -0.7, 0.3, -1.0, 0.0, -1.2, -0.3, -1.5, -0.6, -1.9,
             -1.1, -2.3, -1.2, -2.6, -1.8, -3.0, -2.1, -3.3, -2.2, -3.4, -2.3, -3.5,
             -2.4, -3.7, -2.7, -4.1, -3.2, -4.5, -3.5, -4.8, -3.7, -5.1, -4.0, -5.5,
             -4.5, -5.8, -4.8, -6.1, -5.1, -6.4, -5.5, -6.8, -5.7, -7.0, -6.0, -7.4,
             -6.4, -7.7, -6.3, -7.6, -6.1, -7.3, -6.0, -7.3, -6.2, -7.6, -6.4, -7.8,
             -6.8, -8.2, -7.0, -8.4, -7.3, -8.8, -7.8, -9.1, -7.8, -9.1, -7.9, -9.2,
             -8.0, -9.4, -8.1, -9.4, -8.3, -9.5, -8.4, -9.8, -8.5, -9.9, -8.7, -10.1,
             -9.0, -10.3, -9.1, -10.3, -8.9, -10.0, -8.6, -9.9, -8.6]
br2b_ud_a = [-3.8, 2.6, -5.4, 1.3, -1.9, 3.1, -2.4, 1.7, 4.3, 0.5, 3.8, -0.9,
             5.6, 2.1, 6.3, 3.0, 0.7, 5.2, 2.6, 6.8, 3.4, 1.1, 7.2, 4.0,
             6.5, 2.8, 8.3, 4.9, 7.5, 3.6, 8.4, 5.2, 2.9, 7.7, 4.3, 6.9,
             3.2, 7.1, 4.6, 1.8, 6.2, 8.6, 3.7, 6.8, 4.1, 8.0, 5.5, 2.9,
             7.6, 4.8, 9.3, 6.1, 3.9, 8.2, 5.7, 9.0, 6.6, 4.2, 8.7, 6.4,
             9.8, 6.9, 11.1, 8.1, 10.4, 7.6, 12.2, 9.1, 11.5, 8.6, 13.0, 10.0,
             7.9, 11.7, 9.2, 12.9, 10.3, 13.5, 8.8, 12.4, 10.6, 13.2, 9.5, 11.9,
             10.4, 13.6, 8.7, 12.0, 9.9, 12.7, 10.8, 13.1, 11.9]
br2b_ud_b = [1.8, -2.2, 3.4, -0.6, 0.9, -3.5, 2.9, -0.2, 1.6, 5.0, -0.7, 2.8,
             1.9, 5.3, 2.6, 6.7, 4.4, 1.3, 5.7, 2.8, 4.9, 7.1, 3.2, 6.1,
             3.9, 7.9, 5.3, 2.4, 6.9, 8.9, 4.6, 7.1, 3.9, 5.9, 8.2, 2.2,
             6.0, 4.0, 8.1, 3.4, 5.6, 2.9, 7.4, 5.1, 8.9, 3.1, 6.1, 9.0,
             5.3, 8.8, 3.6, 6.8, 9.9, 5.0, 7.8, 4.6, 10.3, 7.2, 5.1, 9.6,
             7.1, 10.5, 6.4, 9.0, 12.3, 8.8, 10.0, 13.4, 7.6, 10.9, 8.4, 12.4,
             10.6, 8.4, 13.1, 11.2, 9.0, 12.0, 10.0, 13.9, 8.1, 11.6, 12.8, 9.2,
             12.3, 9.6, 11.4, 14.1, 10.3, 11.3, 13.9, 10.2, 12.7]
br2b_ud_c = [-1.3, 4.0, -5.7, 0.2, 4.4, -3.0, 0.5, 4.9, -1.5, 2.9, 6.2, 0.9,
             7.0, 0.4, 4.1, 7.8, 1.9, 6.0, -0.1, 4.4, 8.1, 1.7, 5.4, 8.4,
             2.4, 9.1, 4.4, 0.6, 8.8, 5.7, 10.1, 2.8, 6.0, 9.6, 3.4, 7.7,
             1.0, 8.5, 5.9, 9.3, 2.2, 7.3, 9.4, 2.8, 7.0, 10.0, 1.6, 6.6,
             10.4, 3.4, 7.9, 11.0, 4.9, 10.6, 3.3, 7.0, 10.9, 4.0, 9.0, 11.4,
             5.4, 12.2, 8.4, 13.0, 5.9, 11.8, 8.0, 14.3, 9.6, 13.7, 7.3, 14.0,
             12.6, 7.2, 14.2, 9.0, 13.9, 7.9, 14.0, 9.3, 14.8, 7.9, 13.6, 10.2,
             8.2, 14.3, 11.0, 7.6, 14.2, 9.2, 14.8, 9.5, 13.8]

names = ["BR13 NS", "BR13 EW", "BR13 UD",
         "BR0L NS", "BR0L EW", "BR0L UD",
         "0574 NS", "0574 EW", "0574 UD",
         "BR0V NS", "BR0V EW", "BR0V UD",
         "BR2C NS", "BR2C EW", "BR2C UD",
         "BR2B NS", "BR2B EW", "BR2B UD"]
values_a = [br13_ns_a, br13_ew_a, br13_ud_a, br0l_ns_a, br0l_ew_a, br0l_ud_a,
            s0574_ns_a, s0574_ew_a, s0574_ud_a, br0v_ns_a, br0v_ew_a, br0v_ud_a,
            br2c_ns_a, br2c_ew_a, br2c_ud_a, br2b_ns_a, br2b_ew_a, br2b_ud_a]
values_b = [br13_ns_b, br13_ew_b, br13_ud_b, br0l_ns_b, br0l_ew_b, br0l_ud_b,
            s0574_ns_b, s0574_ew_b, s0574_ud_b, br0v_ns_b, br0v_ew_b, br0v_ud_b,
            br2c_ns_b, br2c_ew_b, br2c_ud_b, br2b_ns_b, br2b_ew_b, br2b_ud_b]
values_c = [br13_ns_c, br13_ew_c, br13_ud_c, br0l_ns_c, br0l_ew_c, br0l_ud_c,
            s0574_ns_c, s0574_ew_c, s0574_ud_c, br0v_ns_c, br0v_ew_c, br0v_ud_c,
            br2c_ns_c, br2c_ew_c, br2c_ud_c, br2b_ns_c, br2b_ew_c, br2b_ud_c]
starts = [start_br13] * 3 + [start_br0] * 3 + [start_0574] * 3 + [start_br0] * 9
# stacking offset of each trace (mm on the plot)
offsets = [249.7, 235.6, 219.7,
           215.1, 194.1, 177.9,
           165.2, 154.7, 135.3,
           121.0, 110.1, 91.9,
           80.8, 73.3, 49.1,
           41.0, 33.9, 7.3]
ref_lines = [180, 160, 140, 110, 90, 70]

comp_color = {"NS": "black", "EW": "#9400d3", "UD": "#009e73"}

fig = plt.figure(figsize=(9.75, 13.83), dpi=100)
ax = fig.add_axes([0.0738, 0.0615, 0.9241, 0.9313])

for yv in ref_lines:
    ax.axhline(yv, color="#7a7a7a", lw=0.9, ls=(0, (1.5, 2.2)), zorder=1)

label_y = [248.6, 236.5, 225.2, 214.8, 199.1, 180.3, 167.6, 156.3, 144.8,
           120.8, 107.6, 91.5, 80.0, 70.9, 47.9, 36.6, 27.5, 8.1]
trans = mtransforms.blended_transform_factory(ax.transAxes, ax.transData)

for i, name in enumerate(names):
    col = comp_color[name.split()[1]]
    t0 = pd.Timestamp(starts[i])
    for vals, shift in ((values_a[i], 0), (values_b[i], 5), (values_c[i], 3)):
        t = pd.date_range(t0 + pd.Timedelta(days=shift), periods=len(vals), freq="10D")
        ax.plot(t, np.array(vals) + offsets[i], "o", ms=3.7, color=col,
                mec="none", zorder=3)
    ax.text(0.0166, label_y[i], name, transform=trans, fontsize=26, color=col,
            ha="left", va="baseline", zorder=4)

ax.set_xlim(pd.Timestamp("2020-01-01"), pd.Timestamp("2023-03-28"))
ax.set_ylim(0, 260.1)
ax.xaxis.set_major_locator(mdates.YearLocator())
ax.xaxis.set_minor_locator(mdates.MonthLocator())
ax.xaxis.set_major_formatter(mdates.DateFormatter("%m/%d/%y"))
ax.yaxis.set_major_locator(MultipleLocator(10))
ax.yaxis.set_minor_locator(MultipleLocator(5))
ax.set_yticklabels([])
ax.grid(axis="x", which="major", color="#b0b0b0", ls=(0, (1.5, 2)), lw=0.9, zorder=0)

ax.tick_params(which="both", direction="in", top=True, right=True, width=1)
ax.tick_params(which="major", length=9.5, labelsize=20, pad=13.5)
ax.tick_params(which="minor", length=4.5)
for sp in ax.spines.values():
    sp.set_linewidth(1.7)

ax.set_xlabel("Date", fontsize=20, labelpad=12)
ax.set_ylabel("10 mm/div", fontsize=20, labelpad=6)

fig.savefig("out.png", dpi=100)
